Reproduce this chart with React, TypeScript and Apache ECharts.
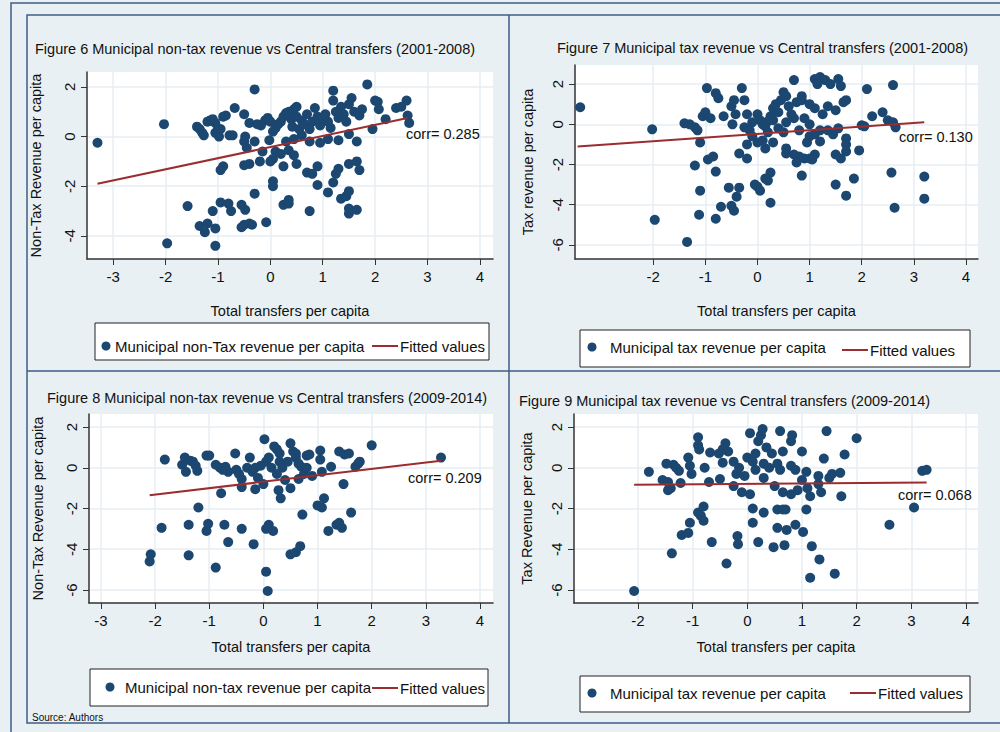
import { useEffect, useRef } from "react";
import * as echarts from "echarts";

// Figure 6: non-tax revenue vs transfers, 2001-2008
const fig6Points: number[][] = [
  [-3.3,-0.25],[-2.03,0.5],[-1.97,-4.3],[-1.58,-2.8],[-1.4,0.4],[-1.35,0.3],[-1.3,0.15],[-1.27,0.05],[-1.2,0.6],[-1.15,0.65],
  [-1.1,0.7],[-1.05,0.55],[-1.0,0.3],[-1.05,0.15],[-0.98,0.0],[-0.95,0.3],[-0.9,0.8],[-0.85,0.85],[-0.78,0.05],[-0.72,0.05],
  [-0.68,1.15],[-0.5,0.9],[-0.48,0.0],[-0.5,-0.2],[-0.45,-0.45],[-0.4,0.55],[-0.3,1.9],[-0.3,-0.2],[-0.25,0.5],[-0.18,0.45],
  [-0.1,0.65],[-0.05,0.75],[0,0.6],[-0.02,-0.15],[0.05,0.2],[0.1,0.35],[0.15,0.5],[0.2,0.6],[0.25,0.8],[0.3,0.95],
  [0.35,1.0],[0.4,0.7],[0.42,0.4],[0.45,1.1],[0.5,1.2],[0.5,0.8],[0.55,0.3],[0.6,0.65],[0.65,0.5],[0.7,0.9],
  [0.75,0.3],[0.8,0.6],[0.85,1.15],[0.9,0.8],[0.95,0.45],[1.0,0.75],[1.05,0.9],[1.1,0.6],[1.15,0.35],[1.2,1.85],
  [1.2,1.45],[1.25,1.0],[1.3,0.75],[1.35,1.2],[1.4,0.9],[1.45,0.6],[1.5,1.3],[1.55,1.55],[1.6,1.0],[1.7,0.85],
  [1.75,1.1],[1.85,2.1],[1.95,0.3],[2.0,1.45],[2.05,1.4],[2.07,1.1],[2.2,0.7],[2.4,1.15],[2.5,1.2],[2.6,1.45],
  [2.62,0.85],[2.65,0.55],[1.5,0.1],[1.3,-0.15],[1.1,-0.1],[0.95,-0.25],[0.75,-0.2],[0.6,0.05],[0.45,-0.1],[0.3,-0.2],
  [0.1,-0.6],[0.05,-0.9],[0,-1.0],[-0.15,-0.6],[-0.2,-1.0],[0.2,-0.7],[0.35,-0.55],[0.45,-0.75],[0.5,-1.1],[0.25,-1.2],
  [-0.4,-1.1],[-0.5,-1.15],[-0.9,-1.2],[-0.95,-1.35],[0.7,-1.45],[0.8,-1.5],[0.9,-1.2],[0.9,-1.95],[1.1,-2.25],[1.2,-1.85],
  [1.25,-1.5],[1.3,-1.3],[1.35,-2.5],[1.45,-2.4],[1.5,-2.2],[1.5,-1.1],[1.65,-1.0],[1.7,-1.35],[1.65,-0.2],[1.5,-2.9],
  [1.5,-3.1],[1.65,-2.95],[0.05,-2.0],[0.05,-1.8],[0.25,-2.75],[0.35,-2.7],[0.35,-2.55],[0.75,-3.0],[-0.3,-2.3],[-0.55,-2.75],
  [-0.48,-2.95],[-0.5,-3.55],[-0.4,-3.5],[-0.35,-3.55],[-0.55,-3.65],[-0.08,-3.45],[-0.95,-2.65],[-0.8,-2.7],[-0.75,-3.0],[-1.1,-3.0],
  [-1.35,-3.6],[-1.2,-3.5],[-1.25,-3.85],[-1.05,-3.7],[-1.05,-4.4],
];
const fig6Fit: number[][] = [[-3.3,-1.9],[2.62,0.75]];

// Figure 7: tax revenue vs transfers, 2001-2008
const fig7Points: number[][] = [
  [-3.4,0.85],[-2.02,-0.25],[-1.97,-4.75],[-1.4,0.05],[-1.3,0.0],[-1.2,-0.15],[-1.15,-0.3],[-1.1,-0.9],[-1.05,0.4],[-1.0,0.6],
  [-0.97,1.8],[-0.9,0.3],[-0.8,1.55],[-0.75,1.3],[-0.65,0.4],[-0.5,0.9],[-0.45,1.2],[-0.42,0.5],[-0.48,0.0],[-0.3,1.8],
  [-0.25,1.2],[-0.2,0.5],[-0.25,-0.15],[-0.15,-0.3],[-0.1,0.1],[0,0.5],[0.05,0.2],[0.1,0.0],[0.15,-0.1],[0.2,0.15],
  [0.25,0.4],[0.3,0.8],[0.35,1.0],[0.4,0.6],[0.45,1.2],[0.5,1.6],[0.55,1.4],[0.6,0.9],[0.65,0.5],[0.7,0.3],
  [0.7,2.2],[0.75,1.1],[0.3,0.2],[0.4,-0.2],[0.5,-0.4],[0.55,0.1],[0.2,-0.4],[0.1,-0.8],[0,-0.9],[-0.1,-0.6],
  [-0.2,-1.0],[0.15,-1.2],[0.3,-0.9],[0.55,-1.2],[0.55,-1.45],[0.85,1.4],[0.85,1.2],[0.9,0.3],[1.0,0.0],[1.0,1.0],
  [1.1,0.8],[1.1,2.25],[1.15,2.0],[1.2,2.35],[1.25,0.5],[1.3,2.2],[1.35,0.9],[1.4,2.0],[1.5,0.7],[1.55,2.25],
  [1.6,1.9],[1.65,1.1],[1.7,1.2],[1.2,-0.3],[1.35,-0.3],[1.45,-0.5],[1.55,-0.2],[1.0,-0.6],[1.1,-0.5],[1.2,-0.85],
  [0.8,-0.3],[0.95,-0.9],[0.7,-1.5],[0.75,-1.9],[0.8,-1.6],[0.9,-1.7],[1.0,-1.7],[1.1,-1.5],[1.05,-1.75],[1.5,-1.5],
  [1.6,-1.7],[1.7,-0.7],[1.7,-1.0],[1.7,-1.35],[1.95,-1.3],[2.0,-0.05],[2.05,-0.1],[2.1,1.75],[2.2,0.4],[2.4,0.6],
  [2.5,0.2],[2.6,0.1],[2.6,1.95],[2.65,-0.15],[2.57,-2.4],[2.63,-4.15],[3.2,-2.6],[3.2,-3.7],[1.5,-3.0],[1.7,-3.55],
  [1.85,-2.7],[0.85,-2.55],[0.25,-2.4],[0.2,-2.8],[0.15,-2.7],[-0.05,-3.0],[0.0,-3.1],[0.05,-3.3],[0.25,-3.9],[-0.2,-1.7],
  [-0.35,-1.45],[-0.55,-3.15],[-0.35,-3.15],[-0.4,-3.6],[-0.5,-4.05],[-0.45,-4.3],[-0.7,-4.1],[-0.8,-4.7],[-0.8,-2.35],[-0.85,-1.6],
  [-0.95,-1.75],[-1.2,-2.05],[-1.1,-3.3],[-1.12,-4.5],[-1.35,-5.85],
];
const fig7Fit: number[][] = [[-3.45,-1.1],[3.2,0.1]];

// Figure 8: non-tax revenue vs transfers, 2009-2014
const fig8Points: number[][] = [
  [-2.1,-4.6],[-2.08,-4.25],[-1.88,-2.95],[-1.82,0.4],[-1.5,0.15],[-1.45,0.5],[-1.43,-0.2],[-1.35,0.35],[-1.3,0.3],[-1.25,0.1],
  [-1.22,-0.15],[-1.38,-2.8],[-1.38,-4.3],[-1.2,-1.95],[-1.05,0.6],[-1.0,0.6],[-1.05,-3.1],[-1.02,-2.75],[-0.88,0.15],[-0.8,0.0],
  [-0.75,-0.1],[-0.7,0.05],[-0.65,-0.2],[-0.78,-1.25],[-0.72,-2.8],[-0.65,-3.65],[-0.88,-4.9],[-0.52,0.7],[-0.5,-0.1],[-0.45,-0.3],
  [-0.4,-0.55],[-0.4,-0.95],[-0.4,-3.0],[-0.3,0.0],[-0.25,0.5],[-0.2,-0.2],[-0.15,0.0],[-0.15,-1.05],[-0.18,-3.75],[-0.1,-0.5],
  [-0.05,0.1],[0,-0.8],[0.02,1.4],[0.05,0.3],[0.1,0.5],[0.05,-3.0],[0.1,-2.8],[0.18,-3.1],[0.05,-5.1],[0.08,-6.05],
  [0.15,0.0],[0.2,1.05],[0.25,0.9],[0.3,0.7],[0.3,0.3],[0.35,0.0],[0.25,-0.3],[0.28,-1.1],[0.32,-1.5],[0.4,-0.6],
  [0.45,0.3],[0.5,1.2],[0.55,0.8],[0.6,0.5],[0.65,0.2],[0.7,0.05],[0.65,-0.55],[0.5,-1.0],[0.6,0.7],[0.75,-0.3],
  [0.8,0.6],[0.85,0.65],[0.9,-0.4],[0.8,0.0],[0.72,-2.3],[0.5,-4.25],[0.6,-4.15],[0.68,-3.85],[1.05,0.85],[1.05,0.4],
  [1.08,-0.2],[1.25,0.05],[1.0,-1.85],[1.08,-1.95],[1.12,-1.5],[1.2,-3.1],[1.35,-2.8],[1.4,-2.7],[1.45,-2.95],[1.4,0.8],
  [1.5,0.65],[1.58,0.7],[1.48,-0.8],[1.62,-2.2],[1.7,0.05],[1.75,0.2],[1.78,0.3],[2.0,1.1],[3.28,0.5],
];
const fig8Fit: number[][] = [[-2.1,-1.35],[3.28,0.35]];

// Figure 9: tax revenue vs transfers, 2009-2014
const fig9Points: number[][] = [
  [-2.07,-6.05],[-1.8,-0.2],[-1.55,-0.6],[-1.48,0.2],[-1.45,-0.7],[-1.45,-1.1],[-1.4,-1.0],[-1.35,0.15],[-1.3,0.0],[-1.25,-0.15],
  [-1.22,-0.75],[-1.38,-4.2],[-1.2,-3.3],[-1.08,-3.2],[-1.05,-2.7],[-1.08,0.5],[-1.05,0.1],[-1.02,-0.3],[-0.9,1.5],[-0.9,1.1],
  [-0.88,0.9],[-0.9,-2.2],[-0.85,-2.35],[-0.8,-1.9],[-0.8,-2.6],[-0.78,0.0],[-0.7,-0.7],[-0.68,0.75],[-0.65,-3.65],[-0.52,0.7],
  [-0.5,-0.55],[-0.45,0.9],[-0.45,0.25],[-0.4,1.2],[-0.35,0.8],[-0.38,-4.7],[-0.25,0.3],[-0.25,-0.9],[-0.2,-0.3],[-0.15,0.0],
  [-0.18,-3.35],[-0.17,-3.75],[-0.1,-1.2],[-0.05,-0.4],[0,0.5],[0.05,1.7],[0.05,-1.3],[0.1,0.3],[0.1,-2.0],[0.1,-2.7],
  [0.15,0.7],[0.15,-0.1],[0.2,1.3],[0.2,-3.65],[0.25,1.6],[0.28,1.9],[0.3,0.2],[0.3,-0.5],[0.3,-2.2],[0.35,1.0],
  [0.4,0.0],[0.45,0.7],[0.5,-0.9],[0.48,-3.9],[0.55,0.2],[0.55,-2.05],[0.55,-2.95],[0.6,1.8],[0.6,-0.1],[0.65,0.8],
  [0.65,-1.2],[0.65,-2.05],[0.68,-3.8],[0.7,-2.05],[0.72,-3.05],[0.8,1.3],[0.8,0.1],[0.8,-1.3],[0.82,1.6],[0.88,-0.1],
  [0.88,-2.8],[0.92,-1.1],[1.0,0.8],[1.0,-0.6],[1.02,-3.15],[1.08,-0.2],[1.08,-2.05],[1.1,-1.0],[1.15,-1.4],[1.15,-5.4],
  [1.18,-3.85],[1.3,-0.4],[1.3,-0.8],[1.35,-1.2],[1.32,-4.5],[1.4,0.45],[1.45,1.8],[1.5,-0.5],[1.55,-0.3],[1.6,-5.2],
  [1.7,-0.25],[1.72,-1.4],[1.78,0.65],[2.0,1.45],[2.6,-2.8],[3.05,-1.95],[3.2,-0.15],[3.28,-0.1],
];
const fig9Fit: number[][] = [[-2.07,-0.83],[3.28,-0.72]];

const xTicksWide = [-3, -2, -1, 0, 1, 2, 3, 4];
const xTicksNarrow = [-2, -1, 0, 1, 2, 3, 4];
const yTicksShort = [-4, -2, 0, 2];
const yTicksLong = [-6, -4, -2, 0, 2];

const FONT = "Liberation Sans";
const DOT = "#1b4770";
const FIT = "#9b2d30";
const FRAME = "#3e5d86";
const PANEL = "#e9f0f3";

const xAxis = (gridIndex: number, min: number, max: number, ticks: number[]) => ({
  type: "value" as const, gridIndex, min, max,
  name: "Total transfers per capita", nameLocation: "middle" as const, nameGap: 44,
  nameTextStyle: { fontSize: 14.5, color: "#111", fontFamily: FONT },
  axisLine: { show: true, onZero: false, lineStyle: { color: "#333", width: 1.5 } },
  axisTick: { show: true, customValues: ticks, length: 6, lineStyle: { color: "#333" } },
  axisLabel: { customValues: ticks, fontSize: 15, color: "#111", fontFamily: FONT, margin: 10 },
  splitLine: { show: true, lineStyle: { color: "#e6eef2", width: 1.5 } },
});

const yAxis = (gridIndex: number, min: number, max: number, ticks: number[], name: string) => ({
  type: "value" as const, gridIndex, min, max,
  name, nameLocation: "middle" as const, nameGap: 40, nameRotate: 90,
  nameTextStyle: { fontSize: 14.5, color: "#111", fontFamily: FONT },
  axisLine: { show: true, onZero: false, lineStyle: { color: "#333", width: 1.5 } },
  axisTick: { show: true, customValues: ticks, length: 6, lineStyle: { color: "#333" } },
  axisLabel: { customValues: ticks, rotate: 90, fontSize: 15, color: "#111", fontFamily: FONT, margin: 10 },
  splitLine: { show: true, lineStyle: { color: "#e6eef2", width: 1.5 } },
});

const scatter = (name: string, idx: number, data: number[][]) => ({
  type: "scatter" as const, name, xAxisIndex: idx, yAxisIndex: idx, data,
  symbol: "circle", symbolSize: 10, itemStyle: { color: DOT, opacity: 1 },
});
const fit = (idx: number, data: number[][]) => ({
  type: "line" as const, name: "Fitted values", xAxisIndex: idx, yAxisIndex: idx, data,
  symbol: "none", lineStyle: { color: FIT, width: 2 }, itemStyle: { color: FIT },
});

const box = (x: number, y: number, w: number, h: number) => ({
  type: "rect", shape: { x, y, width: w, height: h }, z: 0,
  style: { fill: "#fff", stroke: "#222", lineWidth: 1 },
});
const label = (x: number, y: number, text: string, size = 14.5) => ({
  type: "text", x, y, z: 10,
  style: { text, fontSize: size, fill: "#111", fontFamily: FONT, textVerticalAlign: "middle" },
});
// legend key: dot, its label, a red line, "Fitted values"
const key = (dotX: number, y: number, textX: number, name: string, lineX: number, lineY: number) => [
  { type: "circle", shape: { cx: dotX, cy: y, r: 4.5 }, z: 10, style: { fill: DOT } },
  label(textX, y, name, 15),
  { type: "line", shape: { x1: lineX, y1: lineY, x2: lineX + 26, y2: lineY }, z: 10, style: { stroke: FIT, lineWidth: 2 } },
  label(lineX + 28, lineY, "Fitted values", 15),
];

export default function App() {
  const ref = useRef<HTMLDivElement>(null);

  useEffect(() => {
    if (!ref.current) return;
    const chart = echarts.init(ref.current, null, { renderer: "svg" });
    const titleStyle = { fontSize: 14.5, fontWeight: "normal" as const, color: "#111", fontFamily: FONT };
    chart.setOption({
      animation: false,
      backgroundColor: PANEL,
      title: [
        { text: "Figure 6 Municipal non-tax revenue vs Central transfers (2001-2008)", left: 30, top: 36, textStyle: titleStyle },
        { text: "Figure 7 Municipal tax revenue vs Central transfers (2001-2008)", left: 552, top: 35, textStyle: titleStyle },
        { text: "Figure 8 Municipal non-tax revenue vs Central transfers (2009-2014)", left: 42, top: 385, textStyle: titleStyle },
        { text: "Figure 9 Municipal tax revenue vs Central transfers (2009-2014)", left: 514, top: 388, textStyle: titleStyle },
        { text: "Source: Authors", left: 27, top: 707, textStyle: { ...titleStyle, fontSize: 10 } },
      ],
      grid: [
        { left: 87, top: 72, width: 406, height: 187, show: true, backgroundColor: "#fff", borderWidth: 0 },
        { left: 575, top: 65, width: 403, height: 194, show: true, backgroundColor: "#fff", borderWidth: 0 },
        { left: 89, top: 414, width: 404, height: 189, show: true, backgroundColor: "#fff", borderWidth: 0 },
        { left: 574, top: 414, width: 404, height: 189, show: true, backgroundColor: "#fff", borderWidth: 0 },
      ],
      xAxis: [
        xAxis(0, -3.5, 4.25, xTicksWide),
        xAxis(1, -3.5, 4.23, xTicksNarrow),
        { ...xAxis(2, -3.22, 4.24, xTicksWide), nameGap: 36 },
        { ...xAxis(3, -3.17, 4.22, xTicksNarrow), nameGap: 36 },
      ],
      yAxis: [
        { ...yAxis(0, -4.93, 2.6, yTicksShort, "Non-Tax Revenue per capita"), nameGap: 44 },
        yAxis(1, -6.7, 2.95, yTicksLong, "Tax revenue per capita"),
        { ...yAxis(2, -6.64, 2.64, yTicksLong, "Non-Tax Revenue per capita"), nameGap: 44 },
        yAxis(3, -6.64, 2.64, yTicksLong, "Tax Revenue per capita"),
      ],
      graphic: [
        { type: "rect", shape: { x: 11, y: 3, width: 1000, height: 740 }, z: -1, style: { fill: "none", stroke: FRAME, lineWidth: 1.5 } },
        { type: "rect", shape: { x: 27, y: 15, width: 1000, height: 708 }, z: -1, style: { fill: "none", stroke: FRAME, lineWidth: 1.5 } },
        { type: "line", shape: { x1: 509, y1: 15, x2: 509, y2: 723 }, z: -1, style: { stroke: FRAME, lineWidth: 1.5 } },
        { type: "line", shape: { x1: 27, y1: 371, x2: 1000, y2: 371 }, z: -1, style: { stroke: FRAME, lineWidth: 1.5 } },
        box(95, 323, 394, 37),
        box(580, 330, 390, 37),
        box(90, 669, 398, 37),
        box(580, 676, 390, 36),
        ...key(106, 346, 115, "Municipal non-Tax revenue per capita", 372, 346),
        ...key(592, 347, 610, "Municipal tax revenue per capita", 842, 350),
        ...key(110, 687, 125, "Municipal non-tax revenue per capita", 372, 688),
        ...key(592, 693, 610, "Municipal tax revenue per capita", 850, 693),
        label(406, 134, "corr= 0.285"),
        label(899, 137, "corr= 0.130"),
        label(408, 478, "corr= 0.209"),
        label(898, 495, "corr= 0.068"),
      ],
      series: [
        scatter("Municipal non-Tax revenue per capita", 0, fig6Points), fit(0, fig6Fit),
        scatter("Municipal tax revenue per capita", 1, fig7Points), fit(1, fig7Fit),
        scatter("Municipal non-tax revenue per capita", 2, fig8Points), fit(2, fig8Fit),
        scatter("Municipal tax revenue per capita", 3, fig9Points), fit(3, fig9Fit),
      ],
    });
    return () => chart.dispose();
  }, []);

  return <div ref={ref} style={{ position: "fixed", left: 0, top: 0, width: 1000, height: 732 }} />;
}
